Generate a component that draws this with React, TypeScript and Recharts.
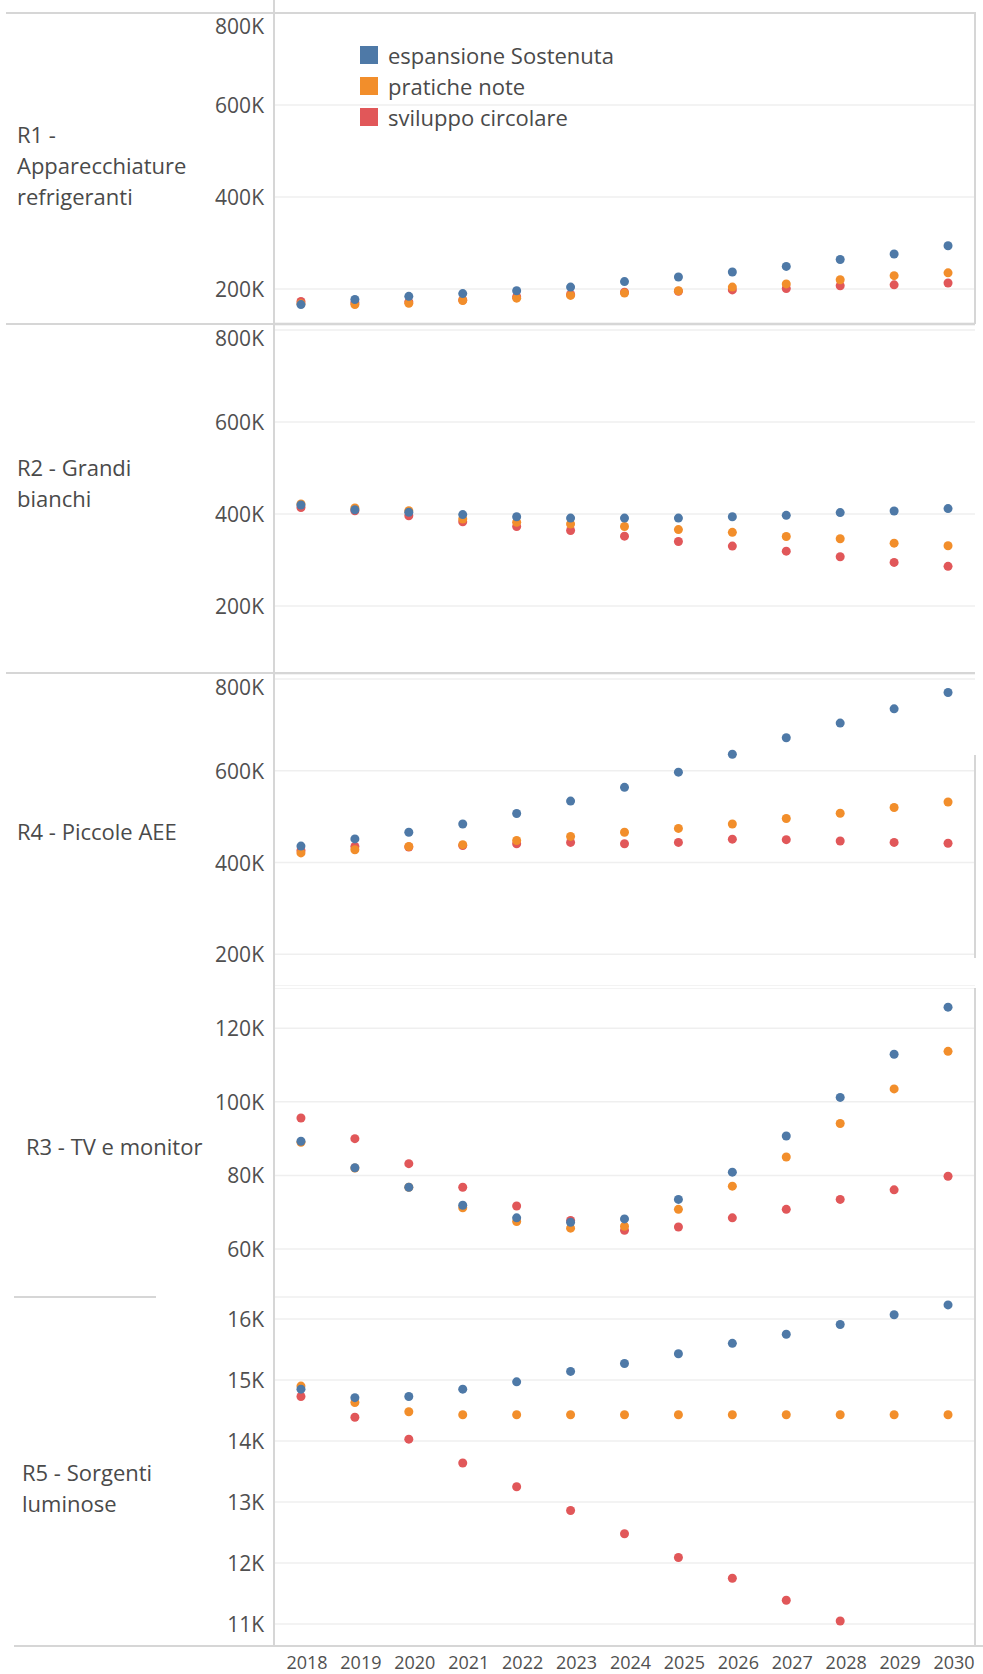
import { ScatterChart, Scatter, XAxis, YAxis, CartesianGrid } from "recharts";

// values, in thousands
const YEARS = [2018, 2019, 2020, 2021, 2022, 2023, 2024, 2025, 2026, 2027, 2028, 2029, 2030];
const SERIES = ["espansione Sostenuta", "pratiche note", "sviluppo circolare"];
const COLORS = ["#4e79a7", "#f28e2b", "#e15759"];

const R1_ESP = [166, 177, 184, 190, 196, 204, 216, 226, 237, 249, 264, 276, 294];
const R1_PRA = [168, 166, 169, 175, 180, 186, 191, 196, 204, 211, 220, 229, 235];
const R1_SVI = [173, 170, 172, 176, 183, 188, 193, 195, 198, 201, 207, 209, 213];

const R2_ESP = [419.5, 409, 403.6, 398.6, 394, 391, 391, 391, 394, 397, 403, 406.5, 411.6];
const R2_PRA = [421.7, 413, 407, 389, 382, 378, 372.6, 366, 360, 351, 346, 336.5, 330.7];
const R2_SVI = [414, 407, 396, 383, 372.6, 364, 351.6, 340, 330, 319, 307, 294.6, 286];

const R4_ESP = [436, 451.6, 466, 484, 507, 534, 564, 597, 636, 672, 704, 735, 770.6];
const R4_PRA = [421, 428, 435, 439, 448, 457, 466, 474.5, 484, 496, 507.5, 520, 532];
const R4_SVI = [426.5, 435, 434, 437, 441, 444, 441, 444, 451, 450, 447, 444, 442];

const R3_ESP = [89.3, 82.1, 76.8, 71.9, 68.5, 67.3, 68.2, 73.5, 80.9, 90.7, 101.2, 112.9, 125.7];
const R3_PRA = [89, 82, 76.8, 71.2, 67.5, 65.7, 66.2, 70.8, 77.1, 85, 94.1, 103.5, 113.7];
const R3_SVI = [95.6, 90, 83.2, 76.8, 71.7, 67.8, 65.1, 66, 68.5, 70.8, 73.5, 76.1, 79.8];

const R5_ESP = [14.85, 14.71, 14.73, 14.85, 14.97, 15.14, 15.27, 15.43, 15.6, 15.75, 15.91, 16.07, 16.23];
const R5_PRA = [14.9, 14.63, 14.48, 14.43, 14.43, 14.43, 14.43, 14.43, 14.43, 14.43, 14.43, 14.43, 14.43];
const R5_SVI = [14.73, 14.39, 14.03, 13.64, 13.25, 12.86, 12.48, 12.09, 11.75, 11.39, 11.05, null, null];

const TICKS_BIG = [200, 400, 600, 800];
const TICKS_R3 = [60, 80, 100, 120];
const TICKS_R5 = [11, 12, 13, 14, 15, 16];

const FONT = "'Open Sans', sans-serif";
const TEXT = "#505050";
const BORDER = "#d6d6d6";
const GRID = "#efefef";

const Dot = (p: any) => <circle cx={p.cx} cy={p.cy} r={4.5} fill={p.fill} />;

// top label gets pushed down so it stays inside the pane, like tableau does
const ValueTick = (p: any) => (
  <text
    x={264}
    y={Math.max(p.y, 13)}
    textAnchor="end"
    dominantBaseline="central"
    fontFamily={FONT}
    fontSize={21}
    fill={TEXT}
  >
    {`${p.payload.value}K`}
  </text>
);

const YearTick = (p: any) => (
  <text
    x={p.x + 6}
    y={p.y + 8}
    textAnchor="middle"
    dominantBaseline="central"
    fontFamily={FONT}
    fontSize={18}
    fill={TEXT}
  >
    {p.payload.value}
  </text>
);

function Panel({ top, height, domain, ticks, values, label, labelTop, labelLeft, showYears }: any) {
  const series = values.map((vals: (number | null)[]) =>
    YEARS.map((year, i) => ({ year, v: vals[i] })).filter((d) => d.v != null)
  );
  return (
    <>
      <div style={{ position: "absolute", top, left: 0 }}>
        <ScatterChart
          width={983}
          height={height + (showYears ? 30 : 0)}
          margin={{ top: 0, right: 8, bottom: 0, left: 0 }}
          style={{ overflow: "visible" }}
        >
          <CartesianGrid vertical={false} stroke={GRID} strokeWidth={1.5} />
          <XAxis
            type="number"
            dataKey="year"
            domain={[2017.5, 2030.5]}
            ticks={YEARS}
            interval={0}
            hide={!showYears}
            height={30}
            axisLine={false}
            tickLine={false}
            tick={<YearTick />}
          />
          <YAxis
            type="number"
            dataKey="v"
            domain={domain}
            ticks={ticks}
            interval={0}
            allowDataOverflow
            width={274}
            axisLine={false}
            tickLine={false}
            tick={<ValueTick />}
          />
          {[2, 1, 0].map((i) => (
            <Scatter
              key={i}
              name={SERIES[i]}
              data={series[i]}
              fill={COLORS[i]}
              shape={Dot}
              isAnimationActive={false}
            />
          ))}
        </ScatterChart>
      </div>
      <div
        style={{
          position: "absolute",
          top: labelTop,
          left: labelLeft,
          fontFamily: FONT,
          fontSize: 22,
          lineHeight: "31px",
          color: "#4a4a4a",
        }}
      >
        {label.map((l: string) => (
          <div key={l}>{l}</div>
        ))}
      </div>
    </>
  );
}

const line = (style: any) => <div style={{ position: "absolute", background: BORDER, ...style }} />;

export default function App() {
  return (
    <div
      style={{
        position: "absolute",
        top: 0,
        left: 0,
        width: 983,
        height: 1674,
        background: "#fff",
        overflow: "hidden",
      }}
    >
      <Panel
        top={13}
        height={310}
        domain={[126, 800]}
        ticks={TICKS_BIG}
        values={[R1_ESP, R1_PRA, R1_SVI]}
        label={["R1 -", "Apparecchiature", "refrigeranti"]}
        labelTop={119}
        labelLeft={17}
      />
      <Panel
        top={325}
        height={348}
        domain={[54, 811]}
        ticks={TICKS_BIG}
        values={[R2_ESP, R2_PRA, R2_SVI]}
        label={["R2 - Grandi", "bianchi"]}
        labelTop={452}
        labelLeft={17}
      />
      <Panel
        top={674}
        height={312}
        domain={[131, 811]}
        ticks={TICKS_BIG}
        values={[R4_ESP, R4_PRA, R4_SVI]}
        label={["R4 - Piccole AEE"]}
        labelTop={816}
        labelLeft={17}
      />
      <Panel
        top={988}
        height={309}
        domain={[47, 130.9]}
        ticks={TICKS_R3}
        values={[R3_ESP, R3_PRA, R3_SVI]}
        label={["R3 - TV e monitor"]}
        labelTop={1131}
        labelLeft={26}
      />
      <Panel
        top={1297}
        height={349}
        domain={[10.64, 16.36]}
        ticks={TICKS_R5}
        values={[R5_ESP, R5_PRA, R5_SVI]}
        label={["R5 - Sorgenti", "luminose"]}
        labelTop={1457}
        labelLeft={22}
        showYears
      />

      {/* frame lines */}
      {line({ top: 12, left: 6, width: 969, height: 2 })}
      {line({ top: 323, left: 6, width: 969, height: 2 })}
      {line({ top: 672, left: 6, width: 969, height: 2 })}
      {line({ top: 1296, left: 14, width: 142, height: 2 })}
      {line({ top: 1645, left: 14, width: 969, height: 2 })}
      {line({ top: 0, left: 273, width: 1.5, height: 1647 })}
      {line({ top: 12, left: 974, width: 1.5, height: 312 })}
      {line({ top: 755, left: 974, width: 1.5, height: 203 })}
      {line({ top: 988, left: 974, width: 1.5, height: 658 })}

      {/* legend */}
      <div style={{ position: "absolute", top: 39, left: 360, fontFamily: FONT, fontSize: 22, color: "#4a4a4a" }}>
        {SERIES.map((s, i) => (
          <div key={s} style={{ display: "flex", alignItems: "center", height: 31 }}>
            <span style={{ width: 18, height: 18, background: COLORS[i], marginRight: 10 }} />
            {s}
          </div>
        ))}
      </div>
    </div>
  );
}
